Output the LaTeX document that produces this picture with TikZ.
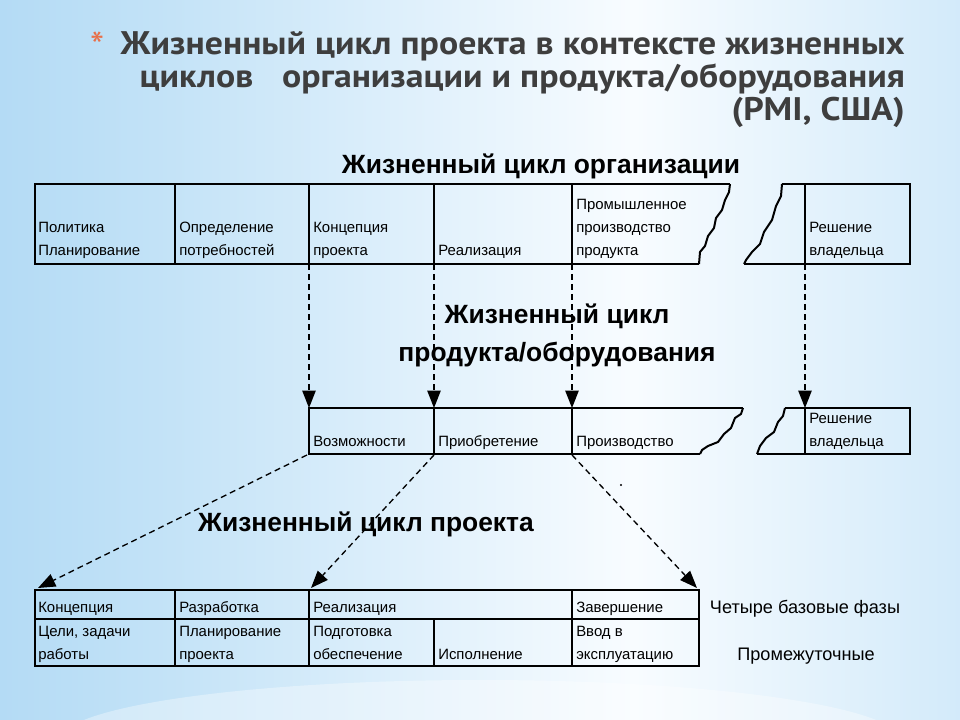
\documentclass[tikz,border=0pt]{standalone}
\usepackage{fontspec}
\setmainfont{Liberation Sans}
\newfontfamily\titlefont{PT Sans}
\usetikzlibrary{arrows.meta}
\definecolor{bgA}{HTML}{88C5EE}
\definecolor{bgB}{HTML}{C2E2F7}
\definecolor{bgC}{HTML}{F8FCFF}
\definecolor{bgD}{HTML}{C8E5F8}
\definecolor{bgE}{HTML}{98CEF2}
\definecolor{titlegray}{HTML}{3E3E3E}
\definecolor{starcol}{HTML}{E8704A}
\pgfdeclarehorizontalshading{bgshade}{100bp}{color(0bp)=(bgA); color(33bp)=(bgB); color(58bp)=(bgC); color(80bp)=(bgD); color(100bp)=(bgE)}
\begin{document}
\begin{tikzpicture}[x=0.75pt,y=-0.75pt,
  tbl/.style={line width=1.5pt,black,line join=miter},
  cell/.style={anchor=base west,inner sep=0pt,font=\fontsize{11.2}{13}\selectfont},
  side/.style={anchor=base,inner sep=0pt,font=\fontsize{13.6}{16}\selectfont},
  head/.style={anchor=base,inner sep=0pt,font=\bfseries\fontsize{19.8}{23}\selectfont},
  ttl/.style={anchor=base east,inner sep=0pt,text=titlegray,font=\titlefont\bfseries\fontsize{24.5}{28}\selectfont},
  dasharrow/.style={dash pattern=on 4.5pt off 3pt,line width=1pt,-{Triangle[length=13pt,width=10pt]}}]
\useasboundingbox (0,0) rectangle (960,720);
\shade[shading=bgshade] (0,0) rectangle (960,720);
\shade[inner color=white,outer color=white,opacity=0.35] (480,740) ellipse (420 and 60);

% title
\node[ttl] (t1) at (905,55) {\scalebox{1.095}[1]{Жизненный цикл проекта в контексте жизненных}};
\node[ttl] (t2) at (905,88) {\scalebox{1.095}[1]{циклов\hspace{0.55em} организации и продукта/оборудования}};
\node[ttl] (t3) at (905,121) {\scalebox{1.095}[1]{(PMI, США)}};
\node[anchor=base,inner sep=0pt,text=starcol,font=\titlefont\fontsize{30}{32}\selectfont] (star) at (98,61) {*};

% headings
\node[head] (h1) at (541,174) {Жизненный цикл организации};
\node[head] (h2) at (557,324) {Жизненный цикл};
\node[head] (h3) at (557,361) {продукта/оборудования};
\node[head] (h4) at (366,531) {Жизненный цикл проекта};

% ---- organisation table
\draw[tbl] (730,184) -- (35,184) -- (35,264) -- (699,264);
\foreach \x in {175,309,434,572} \draw[tbl] (\x,184) -- (\x,264);
\draw[tbl] (730,184) -- (729,192) -- (725,200) -- (722,210) -- (716,218) -- (714,228) -- (708,236) -- (705,246) -- (700,252) -- (699,264);
\draw[tbl] (782,184) -- (910,184) -- (910,264) -- (744,264);
\draw[tbl] (805,184) -- (805,264);
\draw[tbl] (782,184) -- (781,196) -- (776,206) -- (772,220) -- (764,232) -- (760,244) -- (752,252) -- (746,260) -- (744,264);

\node[cell] (o1a) at (38,233) {Политика};
\node[cell] (o1b) at (38,256) {Планирование};
\node[cell] (o2a) at (179,233) {Определение};
\node[cell] (o2b) at (179,256) {потребностей};
\node[cell] (o3a) at (313,233) {Концепция};
\node[cell] (o3b) at (313,256) {проекта};
\node[cell] (o4b) at (438,256) {Реализация};
\node[cell] (o5a) at (576,210) {Промышленное};
\node[cell] (o5b) at (576,233) {производство};
\node[cell] (o5c) at (576,256) {продукта};
\node[cell] (o6a) at (809,233) {Решение};
\node[cell] (o6b) at (809,256) {владельца};

% ---- product table
\draw[tbl] (743,408) -- (309,408) -- (309,454) -- (700,454);
\foreach \x in {434,572} \draw[tbl] (\x,408) -- (\x,454);
\draw[tbl] (743,408) -- (741,414) -- (735,418) -- (731,428) -- (724,434) -- (718,442) -- (708,446) -- (702,450) -- (700,454);
\draw[tbl] (785,408) -- (910,408) -- (910,454) -- (757,454);
\draw[tbl] (805,408) -- (805,454);
\draw[tbl] (785,408) -- (783,416) -- (778,422) -- (774,432) -- (766,438) -- (760,446) -- (757,454);

\node[cell] (p1) at (313,446) {Возможности};
\node[cell] (p2) at (438,446) {Приобретение};
\node[cell] (p3) at (576,446) {Производство};
\node[cell] (p4a) at (809,423) {Решение};
\node[cell] (p4b) at (809,446) {владельца};

% ---- project table
\draw[tbl] (35,590) rectangle (699,666);
\draw[tbl] (35,619) -- (699,619);
\foreach \x in {175,309,572} \draw[tbl] (\x,590) -- (\x,666);
\draw[tbl] (434,619) -- (434,666);

\node[cell] (q1) at (38,612) {Концепция};
\node[cell] (q2) at (179,612) {Разработка};
\node[cell] (q3) at (313,612) {Реализация};
\node[cell] (q4) at (576,612) {Завершение};
\node[cell] (r1a) at (38,636) {Цели, задачи};
\node[cell] (r1b) at (38,659) {работы};
\node[cell] (r2a) at (179,636) {Планирование};
\node[cell] (r2b) at (179,659) {проекта};
\node[cell] (r3a) at (313,636) {Подготовка};
\node[cell] (r3b) at (313,659) {обеспечение};
\node[cell] (r4) at (438,659) {Исполнение};
\node[cell] (r5a) at (576,636) {Ввод в};
\node[cell] (r5b) at (576,659) {эксплуатацию};

\node[side] (s1) at (805,613) {Четыре базовые фазы};
\node[side] (s2) at (806,660) {Промежуточные};

% ---- connector end points
\coordinate (oc3) at (309,264);
\coordinate (oc4) at (434,264);
\coordinate (oc5) at (572,264);
\coordinate (oc6) at (805,264);
\coordinate (pt1) at (309,408);
\coordinate (pt2) at (434,408);
\coordinate (pt3) at (572,408);
\coordinate (pt4) at (805,408);
\coordinate (pb1) at (307,455);
\coordinate (pb2) at (434,455);
\coordinate (pb3) at (572,455);
\coordinate (qt1) at (38,588);
\coordinate (qt2) at (311,588);
\coordinate (qt3) at (697,588);

\draw[dasharrow] (oc3) -- (pt1);
\draw[dasharrow] (oc4) -- (pt2);
\draw[dasharrow] (oc5) -- (pt3);
\draw[dasharrow] (oc6) -- (pt4);
\draw[dasharrow] (pb1) -- (qt1);
\draw[dasharrow] (pb2) -- (qt2);
\draw[dasharrow] (pb3) -- (qt3);

\fill (621,485) circle (1.1);
\end{tikzpicture}
\end{document}
